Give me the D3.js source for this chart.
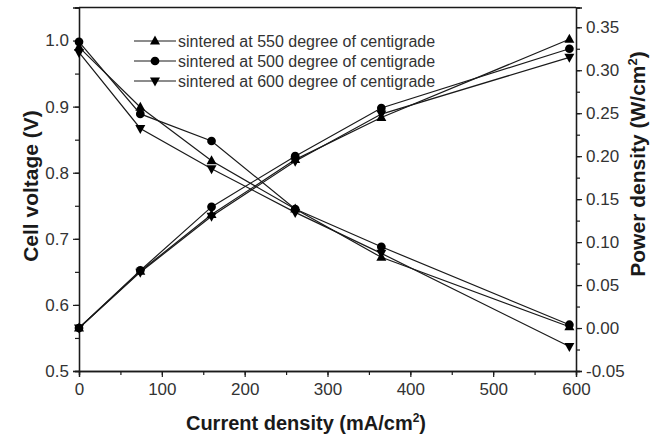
<!DOCTYPE html>
<html><head><meta charset="utf-8">
<script src="https://cdn.jsdelivr.net/npm/d3@7"></script>
<style>body{margin:0;background:#fff}text{font-family:"Liberation Sans",Arial,sans-serif}</style>
</head><body><svg id="c" width="655" height="441"></svg>
<script>
const current = [0, 74, 160, 261, 365, 592];
const seriesNames = ["sintered at 550 degree of centigrade","sintered at 500 degree of centigrade","sintered at 600 degree of centigrade"];
const symbols = ["up","circle","down"];
const voltage550 = [0.99, 0.899, 0.818, 0.745, 0.672, 0.567];
const voltage500 = [0.998, 0.889, 0.848, 0.745, 0.688, 0.570];
const voltage600 = [0.982, 0.867, 0.806, 0.740, 0.678, 0.537];
const power550 = [0.0, 0.066, 0.132, 0.196, 0.245, 0.336];
const power500 = [0.0, 0.067, 0.141, 0.200, 0.256, 0.325];
const power600 = [0.0, 0.065, 0.130, 0.194, 0.249, 0.315];
const xTicks = [0,100,200,300,400,500,600];
const yLeftTicks = [0.5,0.6,0.7,0.8,0.9,1.0];
const yRightTicks = [-0.05,0,0.05,0.10,0.15,0.20,0.25,0.30,0.35];

const svg = d3.select("#c");
const L=79, R=576, T=7.5, B=371;
const x = d3.scaleLinear().domain([0,600]).range([L,R]);
const yL = d3.scaleLinear().domain([0.5,1.05]).range([B,T]);
const yR = d3.scaleLinear().domain([-0.05,0.373]).range([B,T]);
const ink="#1a1a1a", lab="#333";
const FS="17px";

svg.append("line").attr("x1",L).attr("x2",R).attr("y1",T).attr("y2",T).attr("stroke",ink).attr("stroke-width",1.3);

function styleAxis(g){
  g.selectAll("path").attr("stroke",ink).attr("stroke-width",1.3);
  g.selectAll("line").attr("stroke",ink).attr("stroke-width",1.2);
  g.selectAll("text").attr("fill",lab).style("font-size",FS).style("font-family","Liberation Sans, Arial, sans-serif");
}
const gx = svg.append("g").attr("transform",`translate(0,${B})`)
 .call(d3.axisBottom(x).tickValues(d3.range(0,601,50)).tickSize(4).tickFormat(""));
styleAxis(gx);
const gxM = svg.append("g").attr("transform",`translate(0,${B})`)
 .call(d3.axisBottom(x).tickValues(xTicks).tickSize(6).tickPadding(6).tickFormat(d3.format("d")));
styleAxis(gxM);

const gl = svg.append("g").attr("transform",`translate(${L},0)`)
 .call(d3.axisLeft(yL).tickValues(d3.range(0.5,1.051,0.05)).tickSize(4).tickFormat(""));
styleAxis(gl);
const glM = svg.append("g").attr("transform",`translate(${L},0)`)
 .call(d3.axisLeft(yL).tickValues(yLeftTicks).tickSize(6).tickPadding(4).tickFormat(d3.format(".1f")));
styleAxis(glM);

const gr = svg.append("g").attr("transform",`translate(${R},0)`)
 .call(d3.axisRight(yR).tickValues(d3.range(-0.05,0.3701,0.025)).tickSize(4).tickFormat(""));
styleAxis(gr);
const grM = svg.append("g").attr("transform",`translate(${R},0)`)
 .call(d3.axisRight(yR).tickValues(yRightTicks).tickSize(6).tickPadding(4)
   .tickFormat(d=>Math.abs(d)<1e-9?"0.00":(d<0?"-":"")+Math.abs(d).toFixed(2)));
styleAxis(grM);

svg.append("text").attr("transform","translate(38,186) rotate(-90)").attr("text-anchor","middle")
 .style("font-size","21px").style("font-weight","bold").attr("fill",ink).text("Cell voltage (V)");
const rt = svg.append("text").attr("transform","translate(645,164) rotate(-90)").attr("text-anchor","middle")
 .style("font-size","21px").style("font-weight","bold").attr("fill",ink);
rt.append("tspan").text("Power density (W/cm");
rt.append("tspan").attr("dy",-8).style("font-size","13px").text("2");
rt.append("tspan").attr("dy",8).text(")");
const xt = svg.append("text").attr("x",306).attr("y",430).attr("text-anchor","middle")
 .style("font-size","20px").style("font-weight","bold").attr("fill",ink);
xt.append("tspan").text("Current density (mA/cm");
xt.append("tspan").attr("dy",-8).style("font-size","12px").text("2");
xt.append("tspan").attr("dy",8).text(")");

function symPath(s){
  if(s==="circle") return d3.symbol(d3.symbolCircle,60)();
  if(s==="up") return "M0,-5.5L5,3.5L-5,3.5Z";
  return "M0,5.5L5,-3.5L-5,-3.5Z";
}
const volts=[voltage550,voltage500,voltage600], pows=[power550,power500,power600];
const g = svg.append("g");
for(let i=0;i<3;i++){
  const vl = d3.line().x((d,j)=>x(current[j])).y(d=>yL(d));
  const pl = d3.line().x((d,j)=>x(current[j])).y(d=>yR(d));
  g.append("path").attr("d",vl(volts[i])).attr("fill","none").attr("stroke",ink).attr("stroke-width",1.2);
  g.append("path").attr("d",pl(pows[i])).attr("fill","none").attr("stroke",ink).attr("stroke-width",1.2);
  volts[i].forEach((v,j)=>g.append("path").attr("d",symPath(symbols[i])).attr("transform",`translate(${x(current[j])},${yL(v)})`).attr("fill","#000"));
  pows[i].forEach((v,j)=>g.append("path").attr("d",symPath(symbols[i])).attr("transform",`translate(${x(current[j])},${yR(v)})`).attr("fill","#000"));
}
seriesNames.forEach((n,i)=>{
  const yy = 41 + i*20;
  svg.append("line").attr("x1",134).attr("x2",176).attr("y1",yy).attr("y2",yy).attr("stroke",ink).attr("stroke-width",1.2);
  svg.append("path").attr("d",symPath(symbols[i])).attr("transform",`translate(155,${yy})`).attr("fill","#000");
  svg.append("text").attr("x",178).attr("y",yy+5.5).style("font-size","16px").attr("fill",lab).text(n);
});
</script></body></html>
